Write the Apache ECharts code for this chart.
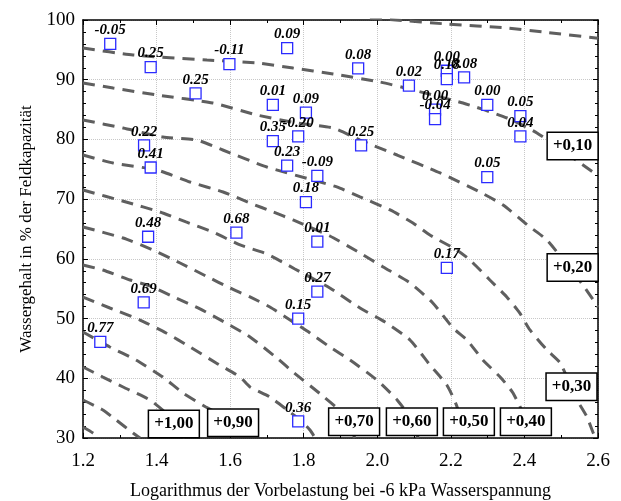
<!DOCTYPE html>
<html>
<head>
<meta charset="utf-8">
<script src="https://cdn.jsdelivr.net/npm/echarts@6/dist/echarts.min.js"></script>
<style>
html,body{margin:0;padding:0;background:#fff;}
#chart{width:621px;height:501px;}
</style>
</head>
<body>
<div id="chart"></div>
<script>
// Measured points
const pointX = [1.274,1.384,1.598,1.755,1.506,1.716,1.806,1.366,1.716,1.785,1.384,1.755,1.837,1.806,
  1.948,2.086,2.189,2.189,2.236,2.157,2.157,2.299,2.389,2.389,1.956,2.299,
  1.377,1.617,1.837,1.837,1.365,1.785,1.247,1.785,2.189];
const pointY = [96.0,92.1,92.6,95.3,87.7,85.8,84.5,79.0,79.7,80.5,75.3,75.6,73.9,69.5,
  91.9,89.0,91.5,90.1,90.4,85.0,83.4,85.8,83.9,80.5,79.0,73.7,
  63.7,64.4,62.9,54.5,52.7,50.0,46.1,32.8,58.5];
const pointLabels = ['-0.05','0.25','-0.11','0.09','0.25','0.01','0.09','0.22','0.35','-0.20','0.41','0.23','-0.09','0.18',
  '0.08','0.02','0.00','0.18','0.08','0.00','-0.04','0.00','0.05','0.04','0.25','0.05',
  '0.48','0.68','0.01','0.27','0.69','0.15','0.77','0.36','0.17'];

// Contour lines (x, y pairs)
const c000 = [[1.98,100.3],[2.05,100],[2.189,99.33],[2.353,98.66],[2.45,97.99],[2.6,96.95]];
const c010 = [[1.2,95.31],[1.336,94.14],[1.537,93.3],[1.673,92.8],[1.771,91.96],[1.88,90.96],[2.007,89.62],[2.097,88.28],[2.233,86.1],[2.353,83.59],[2.434,81.08],[2.586,74.54],[2.6,73.9]];
const c020 = [[1.2,89.45],[1.282,88.61],[1.401,87.44],[1.553,86.1],[1.673,84.09],[1.782,82.75],[1.88,81.91],[1.953,79.9],[2.054,77.39],[2.171,74.38],[2.279,71.18],[2.342,69.02],[2.415,65.33],[2.461,63.16],[2.559,55.62],[2.6,51.94]];
const c030 = [[1.2,83.25],[1.309,81.91],[1.417,80.4],[1.509,79.9],[1.58,78.23],[1.7,75.38],[1.825,73.21],[1.89,72.04],[1.953,70.37],[2.035,68.19],[2.097,66.01],[2.143,64.0],[2.216,61.49],[2.252,59.81],[2.306,56.46],[2.352,53.62],[2.387,50.94],[2.415,48.1],[2.461,44.75],[2.497,42.57],[2.543,36.37],[2.57,33.53],[2.587,30.85],[2.595,30.0]];
const c040 = [[1.2,77.39],[1.282,76.05],[1.401,74.88],[1.491,72.87],[1.581,71.2],[1.654,69.35],[1.717,67.85],[1.771,66.51],[1.871,63.83],[1.953,60.98],[2.016,58.64],[2.089,55.96],[2.151,52.61],[2.206,48.42],[2.244,46.41],[2.287,43.06],[2.334,40.21],[2.369,37.53],[2.429,30.0]];
const c050 = [[1.2,71.53],[1.317,69.52],[1.409,67.85],[1.48,66.18],[1.553,64.5],[1.627,62.33],[1.7,60.82],[1.776,58.31],[1.871,55.12],[1.953,51.77],[2.021,49.43],[2.089,46.41],[2.143,42.23],[2.189,38.88],[2.217,35.2],[2.239,30.0]];
const c060 = [[1.2,65.33],[1.309,63.49],[1.39,61.48],[1.464,59.31],[1.534,57.13],[1.6,55.12],[1.654,53.62],[1.708,51.94],[1.763,49.76],[1.817,47.59],[1.871,45.24],[1.926,43.06],[1.999,39.71],[2.054,36.37],[2.094,33.02],[2.111,30.0]];
const c070 = [[1.2,58.97],[1.254,58.13],[1.328,56.46],[1.382,55.46],[1.453,53.45],[1.518,51.61],[1.589,49.26],[1.654,46.91],[1.727,43.4],[1.771,41.05],[1.852,37.03],[1.907,34.02],[1.939,30.0]];
const c080 = [[1.2,53.61],[1.273,51.77],[1.355,49.76],[1.426,47.59],[1.491,45.24],[1.562,42.57],[1.627,40.21],[1.654,38.54],[1.708,36.87],[1.755,34.69],[1.79,33.02],[1.817,31.34],[1.831,30.0]];
const c090 = [[1.2,47.75],[1.273,45.24],[1.344,43.06],[1.417,40.21],[1.472,37.53],[1.534,35.19],[1.6,33.02],[1.64,30.0]];
const c100 = [[1.2,41.89],[1.254,40.21],[1.309,38.54],[1.382,36.36],[1.437,33.51],[1.477,30.0]];
const c110 = [[1.2,36.36],[1.254,34.69],[1.29,33.02],[1.336,30.84],[1.355,30.0]];
const c120 = [[1.2,31.84],[1.227,30.84],[1.246,30.0]];
const contours = [c000,c010,c020,c030,c040,c050,c060,c070,c080,c090,c100,c110,c120];

// Contour level labels and where they sit
const levelText = ['+0,10','+0,20','+0,30','+0,40','+0,50','+0,60','+0,70','+0,90','+1,00'];
const levelX = [2.531,2.531,2.528,2.404,2.249,2.094,1.937,1.608,1.447];
const levelY = [78.9,58.55,38.59,32.73,32.73,32.73,32.73,32.55,32.35];

const xTicks = [1.2,2.6,0.2];
const yTicks = [30,100,10];

const serif = '"Liberation Serif","Times New Roman",serif';
const chart = echarts.init(document.getElementById('chart'), null, {renderer:'canvas'});

const series = [];
contours.forEach(function(c){
  series.push({
    type:'line', data:c, showSymbol:false, symbol:'none', smooth:0.2, silent:true, z:2,
    lineStyle:{color:'#5f5f5f', width:3, type:[12,8]}
  });
});
series.push({
  type:'scatter', z:5,
  data: pointX.map(function(x,i){return [x, pointY[i], pointLabels[i]];}),
  symbol:'rect', symbolSize:11,
  itemStyle:{color:'#ffffff', borderColor:'#2b2bff', borderWidth:1.3, opacity:1},
  label:{show:true, position:'top', distance:0, formatter:function(p){return p.value[2];},
    fontFamily:serif, fontStyle:'italic', fontWeight:'bold', fontSize:15, color:'#000'}
});
series.push({
  type:'scatter', z:10, symbol:'rect', symbolSize:0, silent:true,
  itemStyle:{color:'#ffffff', opacity:1},
  data: levelX.map(function(x,i){return [x, levelY[i], levelText[i]];}),
  label:{show:true, position:'inside', opacity:1, formatter:function(p){return p.value[2];},
    fontFamily:serif, fontWeight:'bold', fontSize:17, color:'#000000',
    backgroundColor:'#ffffff', borderColor:'#000000', borderWidth:1.5, padding:[5,5,4,5]}
});

const axisCommon = {
  axisLine:{show:true, onZero:false, lineStyle:{color:'#000', width:1.5}},
  axisTick:{show:true, inside:true, length:5, lineStyle:{color:'#000', width:1}}
};

chart.setOption({
  animation:false,
  backgroundColor:'#fff',
  grid:{left:83, right:23, top:20, bottom:63, containLabel:false, outerBoundsMode:'none'},
  xAxis:[
    Object.assign({type:'value', min:xTicks[0], max:xTicks[1], interval:xTicks[2],
      name:'Logarithmus der Vorbelastung bei -6 kPa Wasserspannung', nameLocation:'middle', nameGap:44,
      nameTextStyle:{fontFamily:serif, fontSize:18, color:'#000'},
      axisLabel:{fontFamily:serif, fontSize:19, color:'#000', margin:14, formatter:function(v){return v.toFixed(1);}},
      splitLine:{show:true, lineStyle:{color:'#c8c8c8', type:'dotted', width:1}}
    }, axisCommon, {minorTick:{show:true, splitNumber:2, length:3, lineStyle:{color:'#000'}}}),
    Object.assign({type:'value', position:'top', min:xTicks[0], max:xTicks[1], interval:xTicks[2],
      axisLabel:{show:false}, splitLine:{show:false}
    }, axisCommon, {minorTick:{show:true, splitNumber:2, length:3, lineStyle:{color:'#000'}}})
  ],
  yAxis:[
    Object.assign({type:'value', min:yTicks[0], max:yTicks[1], interval:yTicks[2],
      name:'Wassergehalt in % der Feldkapazität', nameLocation:'middle', nameGap:48,
      nameTextStyle:{fontFamily:serif, fontSize:17, color:'#000'},
      axisLabel:{fontFamily:serif, fontSize:19, color:'#000', margin:8},
      splitLine:{show:true, lineStyle:{color:'#c8c8c8', type:'dotted', width:1}}
    }, axisCommon, {minorTick:{show:true, splitNumber:5, length:3, lineStyle:{color:'#000'}}}),
    Object.assign({type:'value', position:'right', min:yTicks[0], max:yTicks[1], interval:yTicks[2],
      axisLabel:{show:false}, splitLine:{show:false}
    }, axisCommon, {minorTick:{show:true, splitNumber:5, length:3, lineStyle:{color:'#000'}}})
  ],
  series:series
});
</script>
</body>
</html>
